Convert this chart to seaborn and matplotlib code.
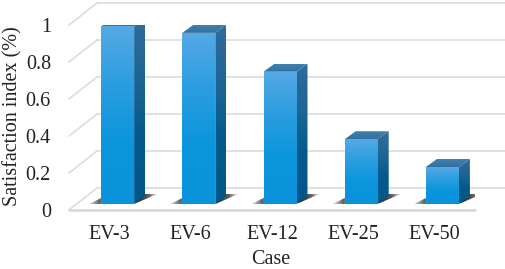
import numpy as np
import pandas as pd
import seaborn as sns
import matplotlib
matplotlib.use("Agg")
import matplotlib.pyplot as plt
from matplotlib.colors import LinearSegmentedColormap, to_rgba
from matplotlib.patches import Polygon

cases = ["EV-3", "EV-6", "EV-12", "EV-25", "EV-50"]
satisfaction = [0.96, 0.925, 0.715, 0.35, 0.2]
y_ticks = [0, 0.2, 0.4, 0.6, 0.8, 1]
y_labels = ["0", "0.2", "0.4", "0.6", "0.8", "1"]

sns.set_style("white")
plt.rcParams['font.family'] = ['Liberation Serif', 'DejaVu Serif']

W, H = 505, 269
fig = plt.figure(figsize=(W / 100, H / 100), dpi=100)
ax = fig.add_axes([69 / W, (H - 210) / H, 406 / W, 185 / H])

df = pd.DataFrame({"Case": cases, "Index": satisfaction})
sns.barplot(data=df, x="Case", y="Index", width=33 / 81.2, color="#0a95dc", ax=ax, zorder=3)

# pixels -> data units
px = 1 / 81.2
py = 1 / 185

front_cmap = LinearSegmentedColormap.from_list("f", ["#55a9e4", "#2a9de0", "#0a95dc", "#0a93da"])
side_cmap = LinearSegmentedColormap.from_list("s", ["#2f6c9c", "#1c6595", "#00598c", "#00588a"])
top_cmap = LinearSegmentedColormap.from_list("t", ["#3f80b0", "#33719f"])
shadow_cmap = LinearSegmentedColormap.from_list(
    "sh",
    [(0, to_rgba("#555555", 0.25)), (0.2, to_rgba("#2b2b2b", 1)), (0.72, to_rgba("#2b2b2b", 1)),
     (0.88, to_rgba("#444444", 0.85)), (1, to_rgba("#777777", 0.2))],
)


def fill_gradient(pts, cmap, horizontal=False, zorder=3):
    pts = np.array(pts)
    poly = Polygon(pts, closed=True, transform=ax.transData, fc="none", ec="none")
    ax.add_patch(poly)
    g = np.linspace(0, 1, 64)
    g = g.reshape(1, -1) if horizontal else g.reshape(-1, 1)
    im = ax.imshow(
        g, cmap=cmap, aspect="auto", origin="upper", zorder=zorder, vmin=0, vmax=1,
        extent=(pts[:, 0].min(), pts[:, 0].max(), pts[:, 1].min(), pts[:, 1].max()),
    )
    im.set_clip_path(poly)
    im.set_clip_on(True)


# wall and floor lines
depth_x, depth_y = 28 * px, 22 * py
for v in y_ticks:
    ax.plot([-0.5, -0.5 + depth_x], [v, v + depth_y], color="#dcdcdc", lw=1.2, clip_on=False, zorder=1)
    ax.plot([-0.5 + depth_x, 4.5 + depth_x + 2 * px], [v + depth_y, v + depth_y], color="#dcdcdc", lw=1.2, clip_on=False, zorder=1)
ax.plot([-0.5, 4.5], [0, 0], color="#d9d9d9", lw=2, clip_on=False, zorder=2)

# shift bars back into the floor, then draw the faces around them
shift_x, shift_y = 8 * px, 6 * py
side_x, side_y = 11 * px, 8 * py
for bar in ax.patches[:len(cases)]:
    bar.set_x(bar.get_x() + shift_x)
    bar.set_y(shift_y)
    bar.set_facecolor("none")
    x0, x1 = bar.get_x(), bar.get_x() + bar.get_width()
    y0, y1 = shift_y, shift_y + bar.get_height()
    fill_gradient([(x0 - 12 * px, y0), (x1, y0), (x1 + 23 * px, y0 + 10 * py), (x0 + 8 * px, y0 + 10 * py)],
                  shadow_cmap, horizontal=True, zorder=2.5)
    fill_gradient([(x0, y0), (x1, y0), (x1, y1), (x0, y1)], front_cmap)
    fill_gradient([(x1, y0), (x1 + side_x, y0 + side_y), (x1 + side_x, y1 + side_y), (x1, y1)], side_cmap)
    fill_gradient([(x0, y1), (x1, y1), (x1 + side_x, y1 + side_y), (x0 + side_x, y1 + side_y)], top_cmap)

ax.set_xlim(-0.5, 4.5)
ax.set_ylim(0, 1)
ax.set_yticks(y_ticks)
ax.set_yticklabels(y_labels)
ax.tick_params(axis="y", length=0, pad=13, labelsize=14.5, colors="#222222")
ax.tick_params(axis="x", length=0, pad=10.5, labelsize=14.5, colors="#222222")
ax.set_xlabel("Case", fontsize=14.5, color="#222222", va="center")
ax.set_ylabel("Satisfaction index (%)", fontsize=14.5, color="#222222", va="center")
ax.xaxis.set_label_coords(0.4975, -0.27)
ax.yaxis.set_label_coords(-0.138, 0.51)
ax.patch.set_alpha(0)
sns.despine(ax=ax, left=True, bottom=True)

fig.savefig("out.png", dpi=100)
